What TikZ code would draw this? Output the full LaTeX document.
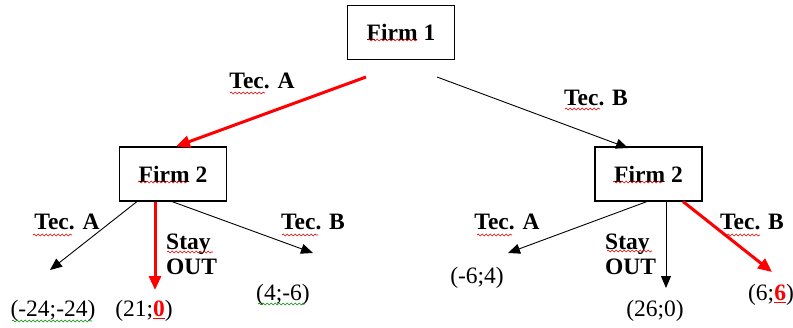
\documentclass[tikz,border=0pt]{standalone}
\usepackage{fontspec}
\setmainfont{Liberation Serif}
\usetikzlibrary{arrows.meta,decorations.pathmorphing}
\begin{document}
\begin{tikzpicture}[x=1pt,y=-1pt,
  every node/.style={font=\fontsize{23.5}{25}\selectfont, inner sep=0pt},
  firmbox/.style={draw, line width=1.1pt, minimum width=107pt, minimum height=54pt, font=\fontsize{23.5}{25}\selectfont\bfseries},
  lbl/.style={font=\fontsize{23.5}{25}\selectfont\bfseries},
  pay/.style={font=\fontsize{23.5}{25}\selectfont},
  blk/.style={line width=0.9pt, -{Triangle[length=12pt,width=10pt]}},
  redarr/.style={draw=red, line width=3pt, -{Triangle[length=14pt,width=12pt]}},
  sq/.style={decorate, decoration={snake, amplitude=0.9pt, segment length=4pt}, line width=0.6pt},
  sqr/.style={sq, draw=red!85!black},
  sqg/.style={sq, draw=green!55!black}]
\useasboundingbox (0,0) rectangle (793,327);
% boxes
\node[firmbox] (f1) at (401,32.5) {Firm 1};
\node[firmbox] (f2l) at (173,174) {Firm 2};
\node[firmbox] (f2r) at (648.5,174) {Firm 2};
% top connectors
\coordinate (t1a) at (366,77);
\coordinate (t1b) at (437,77);
\coordinate (t2b) at (628,148);
\draw[redarr] (t1a) -- ([xshift=3pt]f2l.north);
\draw[blk] (t1b) -- (t2b);
\node[lbl] (ltA) at (262,81) {Tec. A};
\node[lbl] (ltB) at (596,98) {Tec. B};
% left subtree tips
\coordinate (lA) at (50,270);
\coordinate (lS) at (155,290);
\coordinate (lB) at (313,253);
\draw[blk] ([xshift=-36pt]f2l.south) -- (lA);
\draw[redarr] ([xshift=-18pt]f2l.south) -- (lS);
\draw[blk] ([xshift=-1pt]f2l.south) -- (lB);
\node[lbl] (llA) at (67,222) {Tec. A};
\node[lbl, align=left, anchor=west] (llS) at (166,254) {Stay\\OUT};
\node[lbl] (llB) at (313,222) {Tec. B};
\node[pay] (p1) at (53,311) {(-24;-24)};
\node[pay] (p2) at (144,311) {(21;{\color{red}\textbf{\underline{0}}})};
\node[pay] (p3) at (283,295) {(4;-6)};
% right subtree tips
\coordinate (rA) at (508,253);
\coordinate (rS) at (666,288);
\coordinate (rB) at (772,272);
\draw[blk] ([xshift=-1.5pt]f2r.south) -- (rA);
\draw[blk] ([xshift=17.5pt]f2r.south) -- (rS);
\draw[redarr] ([xshift=34.5pt]f2r.south) -- (rB);
\node[lbl] (rlA) at (507,222) {Tec. A};
\node[lbl, align=left, anchor=west] (rlS) at (605,254) {Stay\\OUT};
\node[lbl] (rlB) at (752,222) {Tec. B};
\node[pay] (p4) at (477,278) {(-6;4)};
\node[pay] (p5) at (655,311) {(26;0)};
\node[pay] (p6) at (771,295) {(6;{\color{red}\textbf{\underline{6}}})};
% spell-check squiggles
\draw[sqr] (368,40) -- (417,40);
\draw[sqr] (138,182) -- (187,182);
\draw[sqr] (613,182) -- (662,182);
\draw[sqr] (230,93) -- (265,93);
\draw[sqr] (565,109) -- (600,109);
\draw[sqr] (33,235) -- (72,235);
\draw[sqr] (167,252) -- (213,252);
\draw[sqr] (282,235) -- (318,235);
\draw[sqr] (477,235) -- (512,235);
\draw[sqr] (607,251) -- (652,251);
\draw[sqr] (723,235) -- (760,235);
\draw[sqg] (12,321) -- (92,321);
\draw[sqg] (258,304) -- (305,304);
\end{tikzpicture}
\end{document}
